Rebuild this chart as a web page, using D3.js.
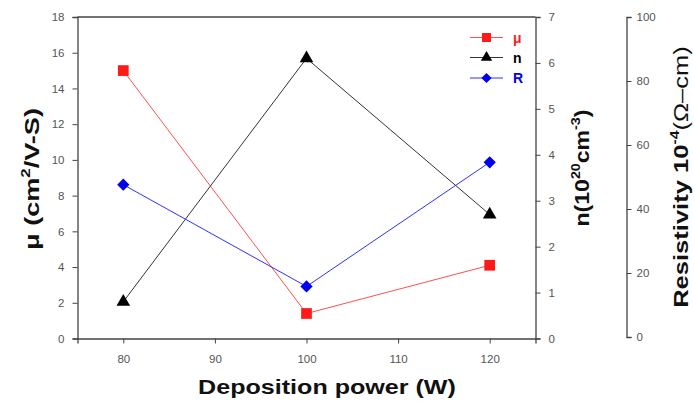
<!DOCTYPE html>
<html><head><meta charset="utf-8">
<script src="https://cdn.jsdelivr.net/npm/d3@7"></script>
<style>body{margin:0;background:#fff}svg{display:block}</style>
</head><body><svg id="c" width="694" height="405"></svg>
<script>
const power = [80, 100, 120];
const mu = [15.0, 1.4, 4.1];
const nConc = [0.8, 6.1, 2.7];
const resist = [47.6, 15.8, 54.6];
const xTicks = [80, 90, 100, 110, 120];
const muTicks = [0, 2, 4, 6, 8, 10, 12, 14, 16, 18];
const nTicks = [0, 1, 2, 3, 4, 5, 6, 7];
const rTicks = [0, 20, 40, 60, 80, 100];
const legendLabels = ["μ", "n", "R"];

const svg = d3.select("#c");
const L = 77.5, R = 535.5, T = 17, B = 338.5, R2 = 626.5;
const x = d3.scaleLinear().domain([75, 125]).range([L, R]);
const yMu = d3.scaleLinear().domain([0, 18]).range([B, T]);
const yN = d3.scaleLinear().domain([0, 7]).range([B, T]);
const yR = d3.scaleLinear().domain([0, 100]).range([B - 1.5, T]);

const axisColor = "#444";
const tickColor = "#555";
const tf = "Arial, 'Liberation Sans', sans-serif";
function styleAxis(g) {
  g.selectAll("path.domain").attr("stroke", axisColor).attr("stroke-width", 1.3);
  g.selectAll(".tick line").attr("stroke", axisColor).attr("stroke-width", 1);
  g.selectAll(".tick text").attr("fill", tickColor).attr("font-family", tf).attr("font-size", 11.5);
}
const fmt = d3.format("d");
svg.append("g").attr("transform", `translate(0,${B})`)
  .call(d3.axisBottom(x).tickValues(xTicks).tickFormat(fmt).tickSizeOuter(0).tickSize(5).tickPadding(11)).call(styleAxis);
svg.append("g").attr("transform", `translate(${L},0)`)
  .call(d3.axisLeft(yMu).tickValues(muTicks).tickFormat(fmt).tickSizeOuter(0).tickSize(5).tickPadding(8)).call(styleAxis);
svg.append("g").attr("transform", `translate(${R},0)`)
  .call(d3.axisRight(yN).tickValues(nTicks).tickFormat(fmt).tickSizeOuter(0).tickSize(5).tickPadding(8)).call(styleAxis);
svg.append("g").attr("transform", `translate(${R2},0)`)
  .call(d3.axisRight(yR).tickValues(rTicks).tickFormat(fmt).tickSizeOuter(0).tickSize(5).tickPadding(5)).call(styleAxis);
svg.append("line").attr("x1", L).attr("x2", R).attr("y1", T).attr("y2", T)
  .attr("stroke", axisColor).attr("stroke-width", 1.3);

const series = [
  {vals: mu, y: yMu, color: "#ff1a1a", line: "#ff5050", sym: d3.symbolSquare, size: 115, rot: 0},
  {vals: nConc, y: yN, color: "#000", line: "#333", sym: d3.symbolTriangle, size: 80, rot: 0},
  {vals: resist, y: yR, color: "#0000ee", line: "#3030ff", sym: d3.symbolSquare, size: 75, rot: 45}
];
series.forEach(s => {
  const pts = power.map((p, i) => [x(p), s.y(s.vals[i])]);
  svg.append("path").attr("d", d3.line()(pts)).attr("fill", "none")
    .attr("stroke", s.line).attr("stroke-width", 1);
  svg.selectAll(null).data(pts).enter().append("path")
    .attr("d", d3.symbol().type(s.sym).size(s.size))
    .attr("transform", d => `translate(${d[0]},${d[1]}) rotate(${s.rot})`)
    .attr("fill", s.color);
});

// legend
const ly = [37.5, 57.5, 78];
series.forEach((s, i) => {
  svg.append("line").attr("x1", 470).attr("x2", 503).attr("y1", ly[i]).attr("y2", ly[i])
    .attr("stroke", s.line).attr("stroke-width", 1);
  svg.append("path").attr("d", d3.symbol().type(s.sym).size(s.size * 0.7))
    .attr("transform", `translate(486.5,${ly[i]}) rotate(${s.rot})`).attr("fill", s.color);
  svg.append("text").attr("x", 513).attr("y", ly[i] + 5).text(legendLabels[i])
    .attr("fill", s.color).attr("font-family", tf)
    .attr("font-weight", "bold").attr("font-size", 14);
});

function title(cx, cy, target, rotated, build) {
  const t = svg.append("text").attr("text-anchor", "middle")
    .attr("font-family", tf).attr("font-weight", "bold").attr("font-size", 21).attr("fill", "#111");
  build(t);
  const w = t.node().getBBox().width;
  const sx = target / w;
  t.attr("transform", `translate(${cx},${cy})${rotated ? " rotate(-90)" : ""} scale(${sx},1)`);
}

title(327, 394, 258, false, t => t.text("Deposition power (W)"));

title(39, 179, 142, true, t => {
  t.append("tspan").text("μ (cm");
  t.append("tspan").text("2").attr("font-size", 13).attr("dy", -9);
  t.append("tspan").text("/V-S)").attr("dy", 9);
});

title(589, 168, 117, true, t => {
  t.append("tspan").text("n(10");
  t.append("tspan").text("20").attr("font-size", 13).attr("dy", -9);
  t.append("tspan").text("cm").attr("dy", 9);
  t.append("tspan").text("-3").attr("font-size", 13).attr("dy", -9);
  t.append("tspan").text(")").attr("dy", 9);
});

title(688, 177, 262, true, t => {
  t.append("tspan").text("Resistivity 10");
  t.append("tspan").text("-4").attr("font-size", 13).attr("dy", -9);
  t.append("tspan").text("(Ω–cm)").attr("dy", 9).attr("font-weight", "normal");
});
</script></body></html>
